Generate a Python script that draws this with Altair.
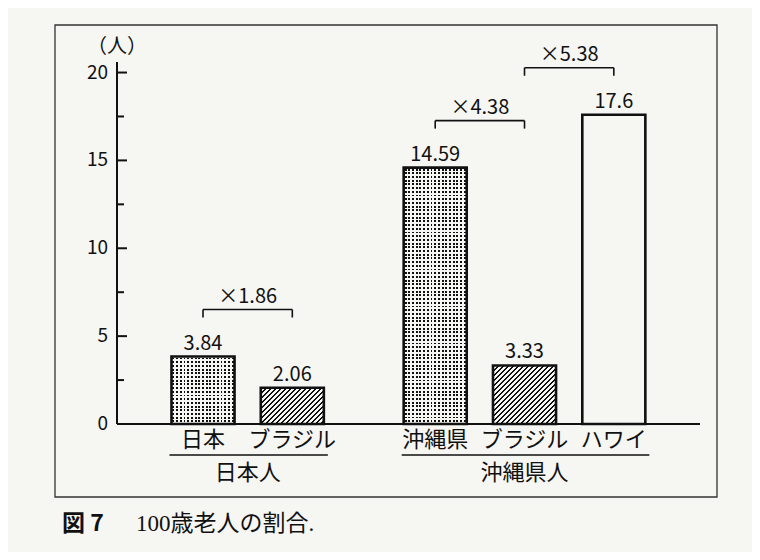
import altair as alt
import pandas as pd

# ---------------- data ----------------
groups = ["日本人", "日本人", "沖縄県人", "沖縄県人", "沖縄県人"]
places = ["日本", "ブラジル", "沖縄県", "ブラジル", "ハワイ"]
values = [3.84, 2.06, 14.59, 3.33, 17.6]
patterns = ["dots", "hatch", "dots", "hatch", "plain"]
ratio_labels = ["×1.86", "×4.38", "×5.38"]
ratio_from = [0, 2, 3]
ratio_to = [1, 3, 4]
major_ticks = [0, 5, 10, 15, 20]
minor_ticks = [2.5, 7.5, 12.5, 17.5]
y_unit = "（人）"
caption_fig = "図 7"
caption_text = "100歳老人の割合."

# ---------------- layout / style ----------------
FONT = "Noto Sans CJK JP"
PAPER = "#f6f6f3"
INK = "#111111"
W, H = 583, 362
Y_MAX = 20.6
GROUP_GAP = 0.6
X_MIN, X_MAX = -0.963, 5.565
HALF = 0.353
PX_X = W / (X_MAX - X_MIN)
PX_Y = H / Y_MAX

group_order = list(dict.fromkeys(groups))
df = pd.DataFrame({"group": groups, "place": places, "value": values, "pattern": patterns})
df["idx"] = range(len(df))
df["label"] = [str(v) for v in values]
df["gidx"] = [group_order.index(g) for g in groups]
df["pos"] = df["idx"] + GROUP_GAP * df["gidx"]
df["left"] = df["pos"] - HALF
df["right"] = df["pos"] + HALF

bdf = pd.DataFrame({
    "label": ratio_labels,
    "a": [df["pos"][i] for i in ratio_from],
    "b": [df["pos"][j] for j in ratio_to],
    "level": [max(values[i], values[j]) for i, j in zip(ratio_from, ratio_to)],
})
bdf["mid"] = (bdf["a"] + bdf["b"]) / 2

gdf = df.groupby("group", sort=False).agg(left=("left", "min"), right=("right", "max")).reset_index()
gdf["mid"] = (gdf["left"] + gdf["right"]) / 2

xs = alt.Scale(domain=[X_MIN, X_MAX], nice=False, zero=False)
ys = alt.Scale(domain=[0, Y_MAX], nice=False, zero=True)


def hatch_gradient(w, h, period=5.0, line=1.7):
    L = w + h
    stops = []
    k = 0
    while k * period < L:
        a = k * period / L
        b = min((k * period + line) / L, 1.0)
        stops += [{"offset": a, "color": PAPER}, {"offset": a, "color": INK},
                  {"offset": b, "color": INK}, {"offset": b, "color": PAPER}]
        k += 1
    d = w * w + h * h
    return {"gradient": "linear", "x1": 0, "y1": 0,
            "x2": (w + h) * w / d, "y2": (w + h) * h / d, "stops": stops}


def column_gradient(w, pitch=3.7, dot=1.9):
    stops = []
    k = 0
    while k * pitch + 1 < w:
        a = (k * pitch + 1) / w
        b = min((k * pitch + 1 + dot) / w, 1.0)
        stops += [{"offset": a, "color": PAPER}, {"offset": a, "color": INK},
                  {"offset": b, "color": INK}, {"offset": b, "color": PAPER}]
        k += 1
    return {"gradient": "linear", "x1": 0, "y1": 0, "x2": 1, "y2": 0, "stops": stops}


def row_mask_gradient(h, pitch=3.7, dot=1.9):
    clear = "rgba(255,255,255,0)"
    stops = []
    k = 0
    while k * pitch + 1 < h:
        a = (k * pitch + 1) / h
        b = min((k * pitch + 1 + dot) / h, 1.0)
        stops += [{"offset": a, "color": PAPER}, {"offset": a, "color": clear},
                  {"offset": b, "color": clear}, {"offset": b, "color": PAPER}]
        k += 1
    return {"gradient": "linear", "x1": 0, "y1": 0, "x2": 0, "y2": 1, "stops": stops}


one = pd.DataFrame({"k": [0]})

frame = alt.Chart(one).mark_rect(fill=PAPER, fillOpacity=0, stroke="#333333", strokeWidth=1.3).encode(
    x=alt.value(-62), x2=alt.value(600), y=alt.value(-37), y2=alt.value(435)
)

bar_base = alt.Chart(df).encode(
    x=alt.X("left:Q", scale=xs, axis=None),
    x2="right:Q",
    y=alt.Y("value:Q", scale=ys, axis=None),
    y2=alt.Y2(datum=0),
)

bar_layers = [bar_base.mark_rect(fill=PAPER)]
bar_w = 2 * HALF * PX_X
for i, (p, v) in enumerate(zip(patterns, values)):
    h = v * PX_Y
    sel = bar_base.transform_filter(alt.datum.idx == i)
    if p == "hatch":
        bar_layers.append(sel.mark_rect(fill=hatch_gradient(bar_w, h)))
    elif p == "dots":
        bar_layers.append(sel.mark_rect(fill=column_gradient(bar_w)))
        bar_layers.append(sel.mark_rect(fill=row_mask_gradient(h)))

outline = bar_base.mark_rect(fill=PAPER, fillOpacity=0, stroke=INK, strokeWidth=2.6)

# axes drawn as marks
y_axis_line = alt.Chart(one).mark_rule(color=INK, strokeWidth=2).encode(
    x=alt.value(0), y=alt.value(0), y2=alt.value(H)
)
x_axis_line = alt.Chart(one).mark_rule(color=INK, strokeWidth=2).encode(
    x=alt.value(0), x2=alt.value(W), y=alt.value(H)
)
major = alt.Chart(pd.DataFrame({"t": major_ticks})).mark_rule(color=INK, strokeWidth=2).encode(
    y=alt.Y("t:Q", scale=ys, axis=None), x=alt.value(0), x2=alt.value(10)
)
minor = alt.Chart(pd.DataFrame({"t": minor_ticks})).mark_rule(color=INK, strokeWidth=2).encode(
    y=alt.Y("t:Q", scale=ys, axis=None), x=alt.value(0), x2=alt.value(7)
)
tick_text = alt.Chart(pd.DataFrame({"t": major_ticks})).mark_text(
    font=FONT, fontSize=19, color=INK, align="right", baseline="middle", dx=-9
).encode(
    y=alt.Y("t:Q", scale=ys, axis=None), x=alt.value(0), text="t:Q"
)
unit_text = alt.Chart(one).mark_text(font=FONT, fontSize=20, color=INK, align="center",
                                     baseline="middle", text=y_unit).encode(
    x=alt.value(0), y=alt.value(-15)
)

value_text = alt.Chart(df).mark_text(font=FONT, fontSize=20, color=INK, baseline="alphabetic", dy=-7).encode(
    x=alt.X("pos:Q", scale=xs, axis=None), y=alt.Y("value:Q", scale=ys, axis=None), text="label:N"
)

bracket_h = alt.Chart(bdf).mark_rule(color=INK, strokeWidth=1.6, yOffset=-47).encode(
    x=alt.X("a:Q", scale=xs, axis=None), x2="b:Q", y=alt.Y("level:Q", scale=ys, axis=None)
)
bracket_l = alt.Chart(bdf).mark_rule(color=INK, strokeWidth=1.6, yOffset=-47, y2Offset=-39).encode(
    x=alt.X("a:Q", scale=xs, axis=None), y=alt.Y("level:Q", scale=ys, axis=None), y2="level:Q"
)
bracket_r = alt.Chart(bdf).mark_rule(color=INK, strokeWidth=1.6, yOffset=-47, y2Offset=-39).encode(
    x=alt.X("b:Q", scale=xs, axis=None), y=alt.Y("level:Q", scale=ys, axis=None), y2="level:Q"
)
ratio_text = alt.Chart(bdf).mark_text(font=FONT, fontSize=20, color=INK, baseline="alphabetic", dy=-54).encode(
    x=alt.X("mid:Q", scale=xs, axis=None), y=alt.Y("level:Q", scale=ys, axis=None), text="label:N"
)

place_text = alt.Chart(df).mark_text(font=FONT, fontSize=22, color=INK, baseline="middle").encode(
    x=alt.X("pos:Q", scale=xs, axis=None), y=alt.value(H + 16), text="place:N"
)
group_line = alt.Chart(gdf).mark_rule(color=INK, strokeWidth=1.6, xOffset=-2, x2Offset=4).encode(
    x=alt.X("left:Q", scale=xs, axis=None), x2="right:Q", y=alt.value(H + 31)
)
group_text = alt.Chart(gdf).mark_text(font=FONT, fontSize=22, color=INK, baseline="middle").encode(
    x=alt.X("mid:Q", scale=xs, axis=None), y=alt.value(H + 49), text="group:N"
)

cap1 = alt.Chart(one).mark_text(font=FONT, fontSize=23, fontWeight="bold", color=INK,
                                align="left", baseline="middle", text=caption_fig).encode(
    x=alt.value(-55), y=alt.value(462)
)
cap2 = alt.Chart(one).mark_text(font="Liberation Serif, Noto Sans CJK JP", fontSize=23, color=INK,
                                align="left", baseline="middle", text=caption_text).encode(
    x=alt.value(19), y=alt.value(462)
)

chart = alt.layer(
    frame, *bar_layers, outline, y_axis_line, x_axis_line, major, minor, tick_text, unit_text,
    value_text, bracket_h, bracket_l, bracket_r, ratio_text,
    place_text, group_line, group_text, cap1, cap2,
).properties(
    width=W, height=H,
    padding={"left": 109, "top": 54, "right": 52, "bottom": 128},
    autosize=alt.AutoSizeParams(type="none"),
    background=PAPER,
).configure_view(strokeWidth=0)

chart.save("out.html", embed_options={"renderer": "svg", "actions": False})
